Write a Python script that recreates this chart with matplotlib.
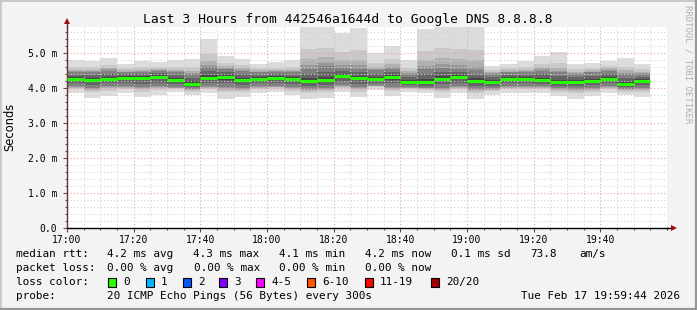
import numpy as np
import matplotlib
matplotlib.use("Agg")
import matplotlib.pyplot as plt
from matplotlib.ticker import MultipleLocator, FixedLocator
from matplotlib.lines import Line2D

# 5 minute slots, minutes after 17:00
starts = np.arange(0, 175, 5)
median = [4.26, 4.22, 4.26, 4.29, 4.29, 4.31, 4.23, 4.12, 4.29, 4.31, 4.23, 4.26,
          4.29, 4.26, 4.20, 4.23, 4.34, 4.29, 4.26, 4.31, 4.17, 4.17, 4.26, 4.31,
          4.20, 4.17, 4.26, 4.26, 4.23, 4.17, 4.17, 4.20, 4.26, 4.11, 4.20]
p_max = [4.80, 4.77, 4.87, 4.69, 4.78, 4.75, 4.80, 4.83, 5.40, 4.90, 4.83, 4.69,
         4.75, 4.80, 5.80, 5.80, 5.58, 5.72, 4.99, 5.20, 4.80, 5.68, 5.80, 5.80,
         5.80, 4.63, 4.69, 4.78, 4.92, 5.03, 4.69, 4.71, 4.78, 4.87, 4.69]
p_min = [3.85, 3.72, 3.77, 3.85, 3.75, 3.79, 3.89, 3.79, 3.85, 3.70, 3.75, 3.85,
         3.89, 3.79, 3.70, 3.72, 3.89, 3.75, 3.94, 3.77, 3.90, 3.86, 3.72, 3.85,
         3.70, 3.79, 3.85, 3.85, 3.85, 3.77, 3.70, 3.77, 3.85, 3.79, 3.75]
q_hi = [4.45, 4.45, 4.50, 4.45, 4.45, 4.50, 4.45, 4.40, 4.60, 4.55, 4.50, 4.45,
        4.45, 4.45, 4.55, 4.62, 4.58, 4.55, 4.50, 4.55, 4.40, 4.55, 4.58, 4.55,
        4.50, 4.40, 4.45, 4.45, 4.50, 4.45, 4.40, 4.45, 4.50, 4.40, 4.40]
q_lo = [4.05, 4.00, 4.05, 4.05, 4.02, 4.05, 4.02, 3.98, 4.05, 4.02, 4.00, 4.05,
        4.05, 4.02, 3.98, 4.00, 4.08, 4.02, 4.08, 4.02, 4.02, 4.00, 4.00, 4.05,
        3.98, 4.00, 4.05, 4.05, 4.05, 4.00, 3.98, 4.00, 4.05, 3.98, 4.00]

xtick_pos = [0, 20, 40, 60, 80, 100, 120, 140, 160]
xtick_labels = ["17:00", "17:20", "17:40", "18:00", "18:20", "18:40", "19:00", "19:20", "19:40"]
ytick_pos = [0, 1, 2, 3, 4, 5]
ytick_labels = ["0.0", "1.0 m", "2.0 m", "3.0 m", "4.0 m", "5.0 m"]

loss_labels = ["0", "1", "2", "3", "4-5", "6-10", "11-19", "20/20"]
loss_colors = ["#26ff00", "#00b8ff", "#0059ff", "#7e00ff", "#ff00ff", "#ff5500", "#ff0000", "#a10000"]

mono = "DejaVu Sans Mono"
W, H = 697, 310

fig = plt.figure(figsize=(W / 100, H / 100), dpi=100, facecolor="#f3f3f3")
ax = fig.add_axes([67 / W, (H - 228) / H, 600 / W, 201 / H])
ax.set_facecolor("white")

med = np.array(median); pmx = np.array(p_max); pmn = np.array(p_min)
qh = np.array(q_hi); ql = np.array(q_lo)

# smoke: outer light layers hug the quartiles, darker ones close to the median
outer = [(1.0, "#dcdcdc"), (0.45, "#c8c8c8"), (0.22, "#b0b0b0"), (0.08, "#989898")]
for g, c in outer:
    top = qh + (pmx - qh) * g
    bot = ql + (pmn - ql) * g
    ax.bar(starts, top - bot, bottom=bot, width=5, align="edge", color=c, lw=0, zorder=1)
inner = [(0.0, "#808080"), (0.4, "#646464"), (0.75, "#454545")]
for f, c in inner:
    top = qh + (med - qh) * f
    bot = ql + (med - ql) * f
    ax.bar(starts, top - bot, bottom=bot, width=5, align="edge", color=c, lw=0, zorder=1)

ax.hlines(med, starts, starts + 5, color="#26ff00", lw=2.2, zorder=3)

ax.set_xlim(0, 180)
ax.set_ylim(0, 201 / 35)
ax.xaxis.set_major_locator(FixedLocator(xtick_pos))
ax.set_xticklabels(xtick_labels)
ax.xaxis.set_minor_locator(MultipleLocator(5))
ax.yaxis.set_major_locator(FixedLocator(ytick_pos))
ax.set_yticklabels(ytick_labels)
ax.yaxis.set_minor_locator(MultipleLocator(0.2))

ax.set_axisbelow("line")
ax.grid(which="minor", color="#d4d4d4", lw=0.8, ls=(0, (1, 2)))
ax.grid(which="major", color="#eba3a3", lw=0.8, ls=(0, (1, 2)))

ax.tick_params(which="both", direction="out", colors="#555555", labelcolor="black",
               labelsize=7)
ax.tick_params(which="major", length=3, width=0.8)
ax.tick_params(which="minor", length=1.5, width=0.8)
ax.tick_params(axis="x", pad=2)
ax.tick_params(axis="y", pad=4)
for lab in ax.get_xticklabels() + ax.get_yticklabels():
    lab.set_family(mono)

for s in ("top", "right"):
    ax.spines[s].set_visible(False)
ax.spines["bottom"].set_color("black")
ax.spines["left"].set_color("#6b3030")
ax.spines["bottom"].set_linewidth(1)
ax.spines["left"].set_linewidth(1)

# axis extensions and arrows
ax.add_line(Line2D([1.0, 1.0 + 6 / 600], [0, 0], transform=ax.transAxes, color="black",
                   lw=1, clip_on=False))
ax.add_line(Line2D([0, 0], [1.0, 1.0 + 3 / 201], transform=ax.transAxes, color="#6b3030",
                   lw=1, clip_on=False))
ax.plot([1.0 + 7 / 600], [0], marker=">", ms=5, color="#a01010", transform=ax.transAxes,
        clip_on=False, mew=0)
ax.plot([0], [1.0 + 6 / 201], marker="^", ms=5, color="#a01010", transform=ax.transAxes,
        clip_on=False, mew=0)

fig.text(348 / W, 1 - 19 / H, "Last 3 Hours from 442546a1644d to Google DNS 8.8.8.8",
         family=mono, fontsize=9.4, ha="center", va="center")
fig.text(10 / W, 1 - 127 / H, "Seconds", fontsize=8.3, rotation=90, ha="center", va="center")
fig.text(688 / W, 1 - 64 / H, "RRDTOOL / TOBI OETIKER", family=mono, fontsize=6.5,
         rotation=270, color="#b0b0b0", ha="center", va="center")

fs = 7.9
def put(x, y, s, **kw):
    fig.text(x / W, 1 - y / H, s, family=mono, fontsize=fs, va="center", **kw)

row1 = [(16, "median rtt:"), (107, "4.2 ms avg"), (193, "4.3 ms max"), (279, "4.1 ms min"),
        (365, "4.2 ms now"), (451, "0.1 ms sd"), (530, "73.8"), (579, "am/s")]
row2 = [(16, "packet loss:"), (107, "0.00 % avg"), (194, "0.00 % max"), (279, "0.00 % min"),
        (365, "0.00 % now")]
for x, s in row1:
    put(x, 254, s)
for x, s in row2:
    put(x, 268, s)

put(16, 282, "loss color:")
box_x = [108, 146, 183, 219, 256, 307, 365, 431]
for bx, lab, col in zip(box_x, loss_labels, loss_colors):
    fig.patches.append(plt.Rectangle((bx / W, 1 - 286.5 / H), 8 / W, 9 / H,
                                     transform=fig.transFigure, facecolor=col,
                                     edgecolor="black", lw=0.8))
    put(bx + 15, 282, lab)

put(16, 296, "probe:")
put(107, 296, "20 ICMP Echo Pings (56 Bytes) every 300s")
put(680, 296, "Tue Feb 17 19:59:44 2026", ha="right")

# frame
fig.add_artist(Line2D([0, 0], [0, 1], transform=fig.transFigure, color="#c8c8c8", lw=2))
fig.add_artist(Line2D([0, 1], [1, 1], transform=fig.transFigure, color="#c8c8c8", lw=2))
fig.add_artist(Line2D([1, 1], [0, 1], transform=fig.transFigure, color="#969696", lw=3))
fig.add_artist(Line2D([0, 1], [0, 0], transform=fig.transFigure, color="#969696", lw=3))

fig.savefig("out.png", dpi=100, facecolor=fig.get_facecolor())
